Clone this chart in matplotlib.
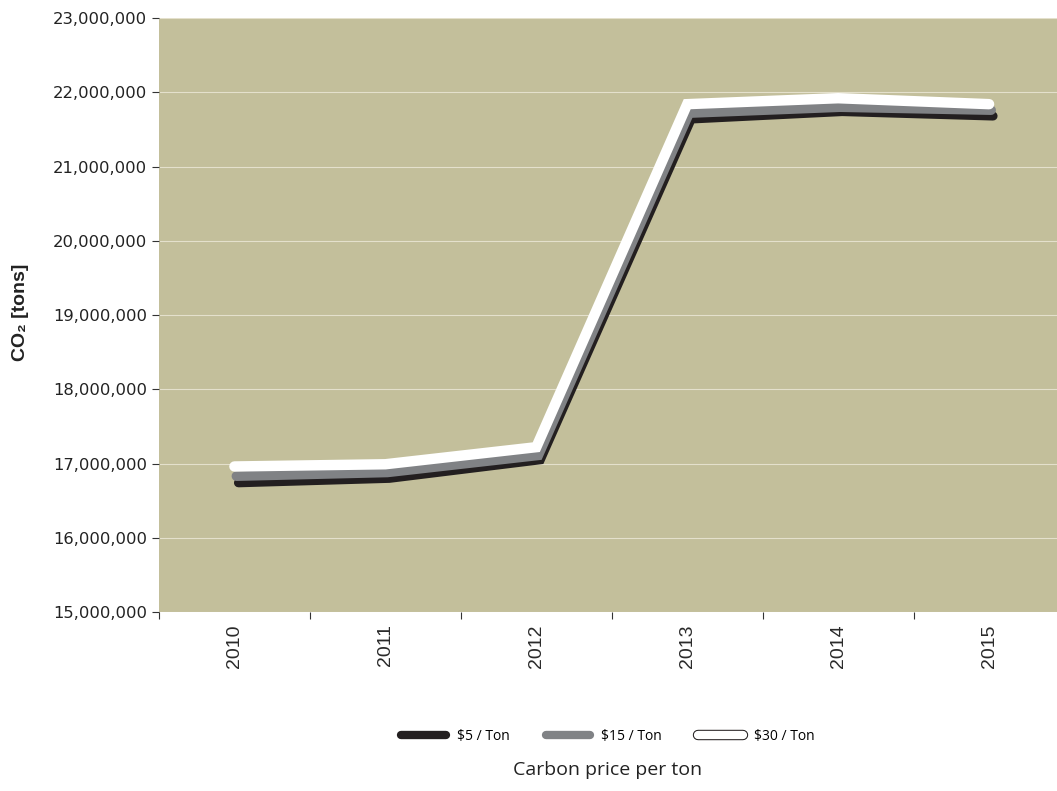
import matplotlib
matplotlib.use("Agg")
import matplotlib.pyplot as plt
import matplotlib.transforms as mtransforms
import matplotlib.patheffects as pe
from matplotlib.lines import Line2D
from matplotlib.ticker import FuncFormatter, MultipleLocator

# CO2 emissions per carbon price scenario
years = ["2010", "2011", "2012", "2013", "2014", "2015"]
price_5 = [16740000, 16800000, 17050000, 21640000, 21740000, 21680000]
price_15 = [16830000, 16880000, 17110000, 21720000, 21800000, 21760000]
price_30 = [16960000, 16990000, 17220000, 21840000, 21920000, 21840000]
series_labels = ["$5 / Ton", "$15 / Ton", "$30 / Ton"]

fig = plt.figure(figsize=(10.57, 7.91), dpi=100)
ax = fig.add_axes([0.1504, 0.2263, 0.8496, 0.7509])
ax.set_facecolor("#c3bf9b")

xs = list(range(len(years)))

# lower-priced lines sit slightly right, like a drop shadow
off_black = mtransforms.offset_copy(ax.transData, fig=fig, x=4, y=0, units="dots")
off_gray = mtransforms.offset_copy(ax.transData, fig=fig, x=2, y=0, units="dots")

ax.plot(xs, price_5, color="#231f20", lw=6.5, solid_capstyle="round",
        solid_joinstyle="miter", transform=off_black, zorder=3)
ax.plot(xs, price_15, color="#808285", lw=7, solid_capstyle="round",
        solid_joinstyle="miter", transform=off_gray, zorder=4)
ax.plot(xs, price_30, color="white", lw=7.5, solid_capstyle="round",
        solid_joinstyle="miter", zorder=5)

ax.set_xlim(-0.5, 5.45)
ax.set_ylim(15000000, 23000000)
ax.yaxis.set_major_locator(MultipleLocator(1000000))
ax.yaxis.set_major_formatter(FuncFormatter(lambda v, p: f"{int(v):,}"))
ax.grid(axis="y", color="#e4e0cc", lw=0.8)
ax.set_axisbelow(True)

ax.set_xticks([x - 0.5 for x in xs])
ax.set_xticks(xs, minor=True)
ax.set_xticklabels([])
ax.set_xticklabels(years, minor=True, rotation=90, fontsize=14,
                   family="Liberation Sans", color="#2a2a2a")
ax.tick_params(axis="x", which="minor", length=0, pad=9)
ax.tick_params(axis="x", which="major", length=5, color="#333333")
ax.tick_params(axis="y", length=5, labelsize=11.8, color="#333333",
               labelcolor="#222222")

for s in ax.spines.values():
    s.set_visible(False)

fig.text(0.019, 0.605, "CO\u2082 [tons]", rotation=90, ha="center", va="center",
         fontsize=14, fontweight="bold", family=["Liberation Sans", "DejaVu Sans"],
         color="#222222")

handles = [
    Line2D([], [], color="#231f20", lw=6, solid_capstyle="round"),
    Line2D([], [], color="#808285", lw=6, solid_capstyle="round"),
    Line2D([], [], color="white", lw=6, solid_capstyle="round",
           path_effects=[pe.Stroke(linewidth=7.5, foreground="#231f20"), pe.Normal()]),
]
fig.legend(handles, series_labels, loc="center", bbox_to_anchor=(0.575, 0.069),
           ncol=3, frameon=False, handlelength=3.2, columnspacing=2.6,
           prop={"family": "Open Sans", "size": 10})

fig.text(0.575, 0.026, "Carbon price per ton", ha="center", va="center",
         fontsize=14, family="Open Sans", color="#222222")

fig.savefig("out.png", dpi=100)
